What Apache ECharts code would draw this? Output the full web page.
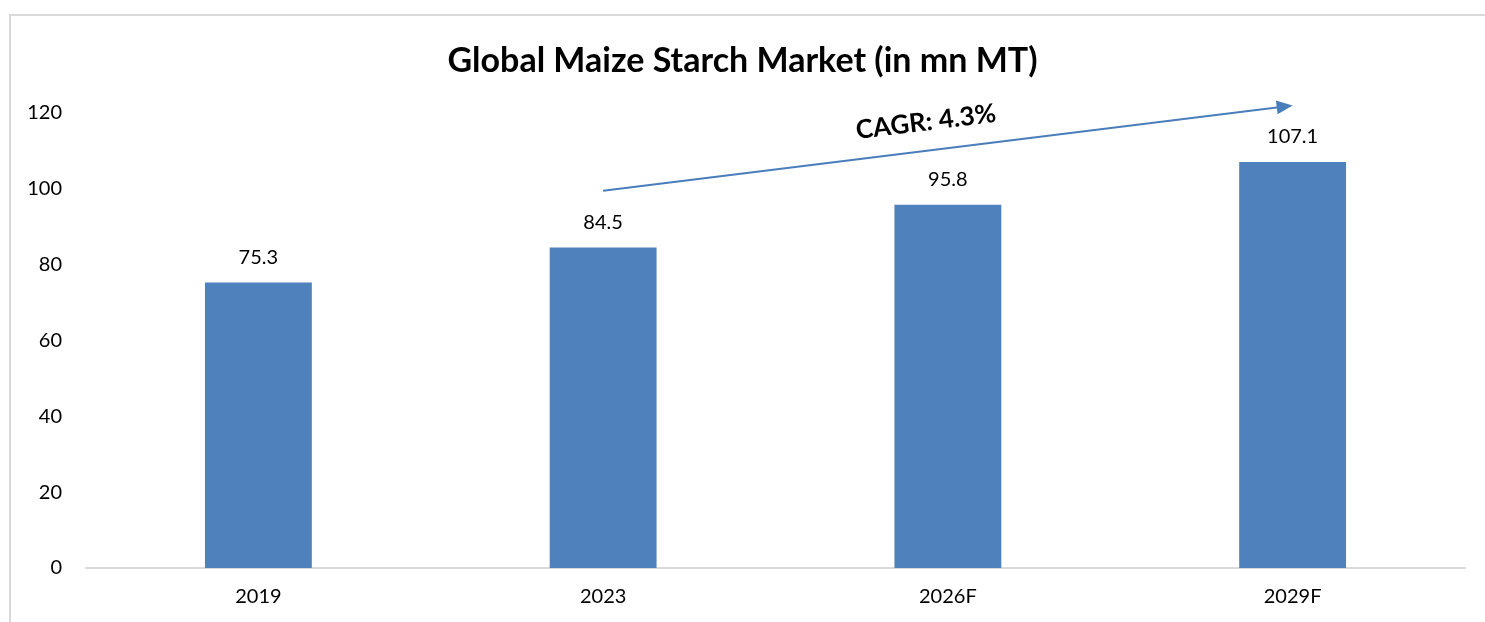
<!DOCTYPE html>
<html>
<head>
<meta charset="utf-8">
<script src="https://cdn.jsdelivr.net/npm/echarts@6/dist/echarts.min.js"></script>
<style>
  html, body { margin: 0; padding: 0; background: #fff; }
  #chart { width: 1485px; height: 622px; }
</style>
</head>
<body>
<div id="chart"></div>
<script>
// chart data
const years = ['2019', '2023', '2026F', '2029F'];
const volume = [75.3, 84.5, 95.8, 107.1];
const yTicks = [0, 20, 40, 60, 80, 100, 120];
const cagrText = 'CAGR: 4.3%';

const FONT = 'Lato, "Open Sans", sans-serif';

const chart = echarts.init(document.getElementById('chart'), null, { renderer: 'canvas' });

chart.setOption({
    animation: false,
    title: {
        text: 'Global Maize Starch Market (in mn MT)',
        left: 'center',
        top: 39,
        textStyle: { fontFamily: FONT, fontWeight: 'bold', fontSize: 34, color: '#000' }
    },
    grid: { left: 86, right: 20, top: 113, bottom: 54 },
    xAxis: {
        type: 'category',
        data: years,
        axisLine: { lineStyle: { color: '#d9d9d9', width: 2 } },
        axisTick: { show: false },
        axisLabel: { fontFamily: FONT, fontSize: 20, color: '#000', margin: 19 }
    },
    yAxis: {
        type: 'value',
        min: yTicks[0],
        max: yTicks[yTicks.length - 1],
        interval: 20,
        axisLine: { show: false },
        axisTick: { show: false },
        splitLine: { show: false },
        axisLabel: { fontFamily: FONT, fontSize: 20, color: '#000', margin: 24 }
    },
    series: [{
        type: 'bar',
        data: volume,
        barWidth: '31%',
        itemStyle: { color: '#4f81bd' },
        label: {
            show: true,
            position: 'top',
            distance: 15,
            fontFamily: FONT,
            fontSize: 20,
            color: '#000'
        }
    }]
});

// CAGR arrow annotation, anchored through the chart's own scales
const p0 = chart.convertToPixel({ seriesIndex: 0 }, [1, 99.5]);
const p1 = chart.convertToPixel({ seriesIndex: 0 }, [3, 122]);
const ang = Math.atan2(p1[1] - p0[1], p1[0] - p0[0]);
const mid = [(p0[0] + p1[0]) / 2 - 22, (p0[1] + p1[1]) / 2 - 26];

chart.setOption({
    graphic: [
        {
            type: 'rect',
            shape: { x: 10, y: 15, width: 1600, height: 700 },
            style: { fill: 'none', stroke: '#d9d9d9', lineWidth: 2 },
            silent: true
        },
        {
            type: 'line',
            shape: { x1: p0[0], y1: p0[1], x2: p1[0] - 14 * Math.cos(ang), y2: p1[1] - 14 * Math.sin(ang) },
            style: { stroke: '#4a7ebb', lineWidth: 2 }
        },
        {
            type: 'polygon',
            x: p1[0], y: p1[1],
            rotation: -ang,
            shape: { points: [[0, 0], [-16, -7], [-16, 7]] },
            style: { fill: '#4a7ebb' }
        },
        {
            type: 'text',
            x: mid[0], y: mid[1],
            rotation: -ang,
            style: {
                text: cagrText,
                fontFamily: FONT,
                fontWeight: 'bold',
                fontSize: 26,
                fill: '#000',
                align: 'center',
                verticalAlign: 'middle'
            }
        }
    ]
});
</script>
</body>
</html>
